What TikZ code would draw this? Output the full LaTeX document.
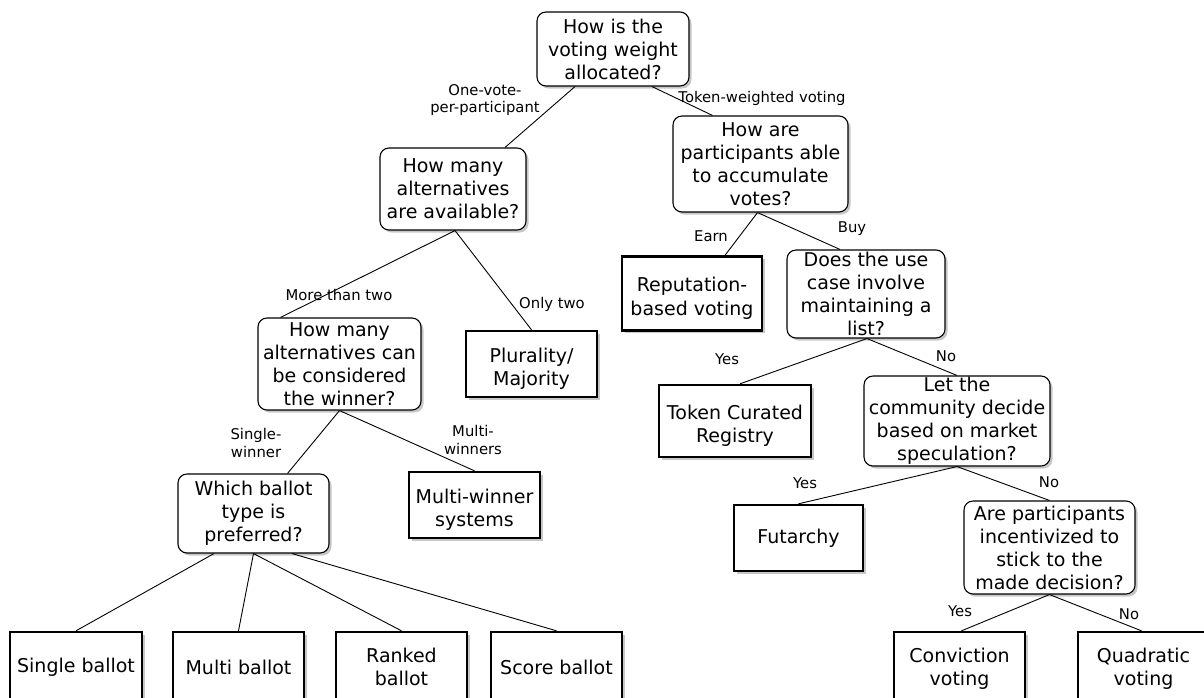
\documentclass[tikz,border=0pt]{standalone}
\usepackage{fontspec}
\setmainfont{DejaVu Sans}
\usetikzlibrary{shadows}
\newcommand\tstrut{\rule{0pt}{24pt}}
\newcommand\sstrut{\rule{0pt}{18pt}}
\begin{document}
\begin{tikzpicture}[x=1pt,y=-1pt,
  shd/.style={drop shadow={shadow xshift=2.5pt,shadow yshift=-2.5pt,fill=black,opacity=0.22}},
  qbox/.style={draw=black,line width=1.1pt,rounded corners=9pt,fill=white,shd,align=center,
    inner sep=1pt,font=\fontsize{19}{23}\selectfont},
  leaf/.style={draw=black,line width=2.4pt,fill=white,shd,align=center,
    inner sep=1pt,font=\fontsize{19}{23.5}\selectfont},
  elab/.style={align=center,inner sep=0pt,font=\fontsize{14.8}{17.5}\selectfont},
  conn/.style={draw=black,line width=0.9pt}]
\useasboundingbox (0,0) rectangle (1204,697);
\fill[white] (0,0) rectangle (1204,697);

% question nodes
\node[qbox,minimum width=152pt,minimum height=74pt] (root) at (613,49) {How is the\\voting weight\\allocated?};
\node[qbox,minimum width=146pt,minimum height=82pt] (q2) at (453,189) {How many\\alternatives\\are available?};
\node[qbox,minimum width=175pt,minimum height=96pt] (q3) at (760.5,164) {How are\\participants able\\to accumulate\\votes?};
\node[qbox,minimum width=158pt,minimum height=88pt] (q4) at (866,294) {Does the use\\case involve\\maintaining a\\list?};
\node[qbox,minimum width=163pt,minimum height=92pt] (q5) at (339.5,364) {How many\\alternatives can\\be considered\\the winner?};
\node[qbox,minimum width=186pt,minimum height=90pt] (q6) at (957,421) {Let the\\community decide\\based on market\\speculation?};
\node[qbox,minimum width=151pt,minimum height=79pt] (q7) at (253.5,513.5) {Which ballot\\type is\\preferred?};
\node[qbox,minimum width=171pt,minimum height=93pt] (q8) at (1049.5,547.5) {Are participants\\incentivized to\\stick to the\\made decision?};

% leaves
\node[leaf,minimum width=140pt,minimum height=74pt] (rep) at (692,293.5) {\tstrut Reputation-\\based voting};
\node[leaf,minimum width=131pt,minimum height=66pt] (plur) at (531.5,364) {\tstrut Plurality/\\Majority};
\node[leaf,minimum width=152pt,minimum height=72pt] (tcr) at (735,421) {\tstrut Token Curated\\Registry};
\node[leaf,minimum width=131pt,minimum height=66pt] (mw) at (474.5,505) {\tstrut Multi-winner\\systems};
\node[leaf,minimum width=129pt,minimum height=66pt] (fut) at (798.5,538) {Futarchy};
\node[leaf,minimum width=132pt,minimum height=70pt] (single) at (76,667) {Single ballot};
\node[leaf,minimum width=131pt,minimum height=70pt] (multi) at (238.5,667) {Multi ballot};
\node[leaf,minimum width=131pt,minimum height=70pt] (ranked) at (401.5,667) {Ranked\\ballot};
\node[leaf,minimum width=131pt,minimum height=70pt] (score) at (556.5,667) {Score ballot};
\node[leaf,minimum width=131pt,minimum height=70pt] (conv) at (959.5,667) {\sstrut Conviction\\voting};
\node[leaf,minimum width=131pt,minimum height=70pt] (quad) at (1143.5,667) {\sstrut Quadratic\\voting};

% connectors
\draw[conn] ([xshift=-38pt]root.south) -- ([xshift=52pt]q2.north);
\draw[conn] ([xshift=39pt]root.south) -- ([xshift=-48pt]q3.north);
\draw[conn] ([xshift=2pt]q2.south) -- ([xshift=-59pt]q5.north);
\draw[conn] ([xshift=2pt]q2.south) -- (plur.north);
\draw[conn] ([xshift=-3pt]q3.south) -- ([xshift=33pt]rep.north);
\draw[conn] ([xshift=-3pt]q3.south) -- ([xshift=-26pt]q4.north);
\draw[conn] ([xshift=1pt]q4.south) -- ([xshift=5pt]tcr.north);
\draw[conn] ([xshift=1pt]q4.south) -- (q6.north);
\draw[conn] (q5.south) -- ([xshift=34pt]q7.north);
\draw[conn] (q5.south) -- (mw.north);
\draw[conn] (q6.south) -- (fut.north);
\draw[conn] (q6.south) -- ([xshift=0pt]q8.north);
\draw[conn] ([xshift=-39.5pt]q7.south) -- (single.north);
\draw[conn] (q7.south) -- (multi.north);
\draw[conn] (q7.south) -- (ranked.north);
\draw[conn] ([xshift=38.5pt]q7.south) -- (score.north);
\draw[conn] (q8.south) -- ([xshift=2pt]conv.north);
\draw[conn] (q8.south) -- ([xshift=-2pt]quad.north);

% edge labels
\node[elab] (l1) at (485,100) {One-vote-\\per-participant};
\node[elab] (l2) at (762,98) {Token-weighted voting};
\node[elab] (l3) at (339,295) {More than two};
\node[elab] (l4) at (552,304) {Only two};
\node[elab] (l5) at (711,236) {Earn};
\node[elab] (l6) at (852,229) {Buy};
\node[elab] (l7) at (727,359) {Yes};
\node[elab] (l8) at (946,356) {No};
\node[elab] (l9) at (256,443) {Single-\\winner};
\node[elab] (l10) at (473,440) {Multi-\\winners};
\node[elab] (l11) at (805,483) {Yes};
\node[elab] (l12) at (1049,482) {No};
\node[elab] (l13) at (960,611) {Yes};
\node[elab] (l14) at (1129,614) {No};
\end{tikzpicture}
\end{document}
